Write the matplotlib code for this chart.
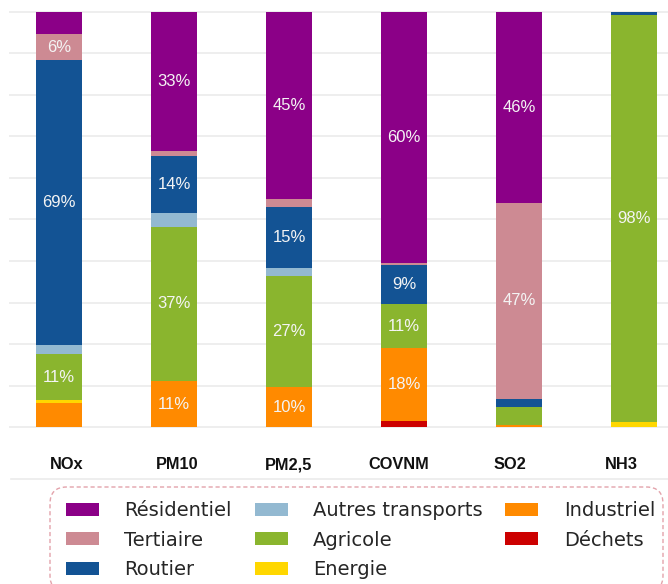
import matplotlib
matplotlib.use("Agg")
import matplotlib.pyplot as plt
import numpy as np
from matplotlib.patches import Patch, FancyBboxPatch
from matplotlib.lines import Line2D

# ---- data ----
polluants = ["NOx", "PM10", "PM2,5", "COVNM", "SO2", "NH3"]
secteurs = ["Résidentiel", "Tertiaire", "Routier", "Autres transports",
            "Agricole", "Energie", "Industriel", "Déchets"]
residentiel = [5.4, 33.4, 45.1, 60.5, 46.0, 0.0]
tertiaire = [6.2, 1.4, 1.9, 0.5, 47.2, 0.0]
routier = [68.7, 13.7, 14.6, 9.4, 2.0, 0.8]
autres_transports = [2.2, 3.2, 2.1, 0.0, 0.0, 0.0]
agricole = [11.0, 37.3, 26.7, 10.6, 4.3, 98.0]
energie = [0.7, 0.0, 0.0, 0.0, 0.0, 1.2]
industriel = [5.8, 11.0, 9.6, 17.6, 0.5, 0.0]
dechets = [0.0, 0.0, 0.0, 1.4, 0.0, 0.0]

couleurs = {
    "Résidentiel": "#8b0087",
    "Tertiaire": "#cd8a93",
    "Routier": "#135394",
    "Autres transports": "#93b9d1",
    "Agricole": "#8ab52e",
    "Energie": "#ffd700",
    "Industriel": "#ff8a00",
    "Déchets": "#cc0000",
}
valeurs = {
    "Résidentiel": residentiel, "Tertiaire": tertiaire, "Routier": routier,
    "Autres transports": autres_transports, "Agricole": agricole,
    "Energie": energie, "Industriel": industriel, "Déchets": dechets,
}

W, H = 668, 584
fig = plt.figure(figsize=(W / 100, H / 100), dpi=100)


def px_ax(l, t, r, b):
    return [l / W, 1 - b / H, (r - l) / W, (b - t) / H]


ax = fig.add_axes(px_ax(9, 10, 668, 429))
x = np.arange(len(polluants))
bottom = np.zeros(len(polluants))
for s in reversed(secteurs):
    v = np.array(valeurs[s])
    ax.bar(x, v, width=0.40, bottom=bottom, color=couleurs[s], linewidth=0, zorder=2)
    for xi, vi, bi in zip(x, v, bottom):
        if vi >= 6:
            ax.text(xi, bi + vi / 2, f"{round(vi)}%", ha="center", va="center",
                    color="#f4f4f4", fontsize=12, family="Liberation Sans", zorder=3)
    bottom += v

ax.set_xlim(-0.437, 5.298)
ax.set_ylim(-0.48, 100.48)
ax.set_yticks(range(0, 101, 10))
ax.yaxis.grid(True, color="#ebebeb", linewidth=1.2)
ax.set_axisbelow(True)
ax.tick_params(left=False, labelleft=False, bottom=False, labelbottom=False)
for sp in ax.spines.values():
    sp.set_visible(False)

# category labels (separately spaced in the reference)
ax2 = fig.add_axes(px_ax(9, 10, 668, 429), frameon=False)
ax2.set_xlim(-0.5185, 5.424)
ax2.set_yticks([])
ax2.set_xticks(x)
ax2.set_xticklabels(polluants, fontsize=11.8, fontweight="bold", family="Liberation Sans",
                    color="#111111")
ax2.tick_params(axis="x", length=0, pad=20.5)

# separator line
fig.add_artist(Line2D([11 / W, 1], [1 - 479 / H] * 2, color="#ebebeb", linewidth=1.2))

# legend frame (rounded, dashed)
frame = FancyBboxPatch((50 / W, 1 - 592 / H), 613 / W, 105 / H,
                       boxstyle="round,pad=0,rounding_size=0.025",
                       transform=fig.transFigure, facecolor="white",
                       edgecolor="#e3a3ab", linewidth=1, linestyle=(0, (3, 2)),
                       mutation_aspect=W / H, zorder=0)
fig.add_artist(frame)

# legend
handles = [Patch(facecolor=couleurs[s], edgecolor="none") for s in secteurs]
leg = fig.legend(handles, secteurs, ncol=3, loc="upper left",
                 bbox_to_anchor=(66 / W, 0, (655 - 66) / W, 1 - 501 / H), mode="expand",
                 borderaxespad=0, fontsize=14, handlelength=1.7, handleheight=0.67,
                 handletextpad=1.3, labelspacing=0.55, borderpad=0,
                 columnspacing=0.8, frameon=False)
for t in leg.get_texts():
    t.set_color("#262626")
    t.set_family("DejaVu Sans")

fig.savefig("out.png", dpi=100)
